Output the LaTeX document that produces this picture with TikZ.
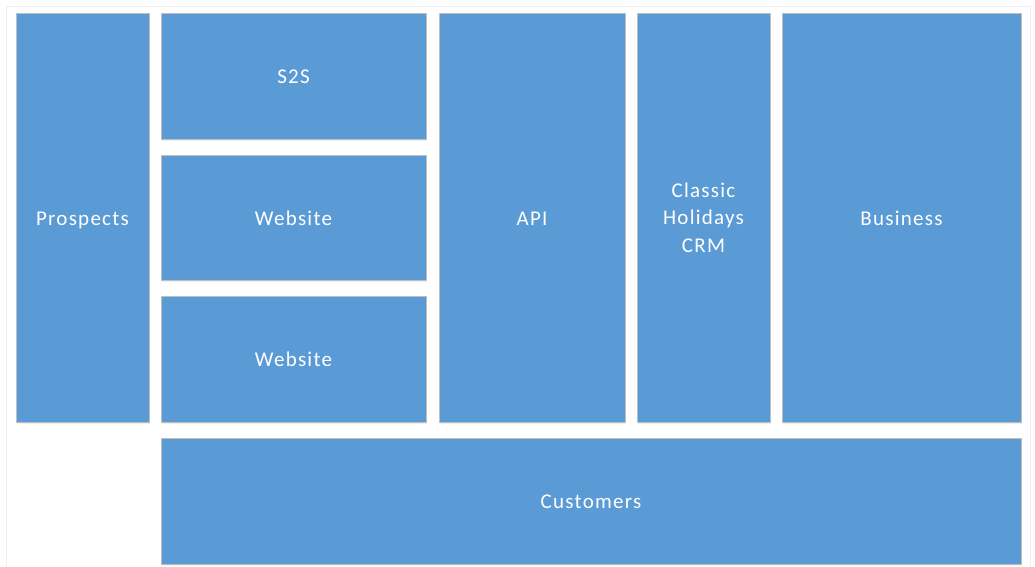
\documentclass[tikz,border=0pt]{standalone}
\usepackage{fontspec}
\setmainfont{Carlito}[LetterSpace=6]
\usetikzlibrary{shadows}
\definecolor{boxblue}{HTML}{5B9BD5}
\definecolor{boxedge}{HTML}{BFBFBF}
\definecolor{frame}{HTML}{F0F0F0}
\tikzset{
  blk/.style={draw=boxedge, line width=1pt, fill=boxblue, text=white, font=\fontsize{21}{27.5}\selectfont, align=center, inner sep=0pt,
    drop shadow={opacity=0.12, shadow xshift=1pt, shadow yshift=-2pt}},
  one/.style={text height=20pt, text depth=4.4pt}
}
\begin{document}
\begin{tikzpicture}[x=1pt,y=-1pt]
\useasboundingbox (0,0) rectangle (1035,566);
\fill[white] (0,0) rectangle (1035,566);
\draw[frame, line width=0.8pt] (6,6) rectangle (1030,570);
\node[blk, one, minimum width=133pt, minimum height=409pt] (prospects) at (82.5,217.5) {Prospects};
\node[blk, one, minimum width=265pt, minimum height=126pt] (s2s) at (293.5,76) {S2S};
\node[blk, one, minimum width=265pt, minimum height=125pt] (web1) at (293.5,217.5) {Website};
\node[blk, one, minimum width=265pt, minimum height=126pt] (web2) at (293.5,359) {Website};
\node[blk, one, minimum width=186pt, minimum height=409pt] (api) at (532,217.5) {API};
\node[blk, minimum width=133pt, minimum height=409pt] (crm) at (703.5,217.5) {\raisebox{-2pt}{\parbox{120pt}{\centering Classic\\Holidays\\CRM}}};
\node[blk, one, minimum width=239pt, minimum height=409pt] (business) at (901.5,217.5) {Business};
\node[blk, one, minimum width=860pt, minimum height=126pt] (customers) at (591,501) {Customers};
\end{tikzpicture}
\end{document}
